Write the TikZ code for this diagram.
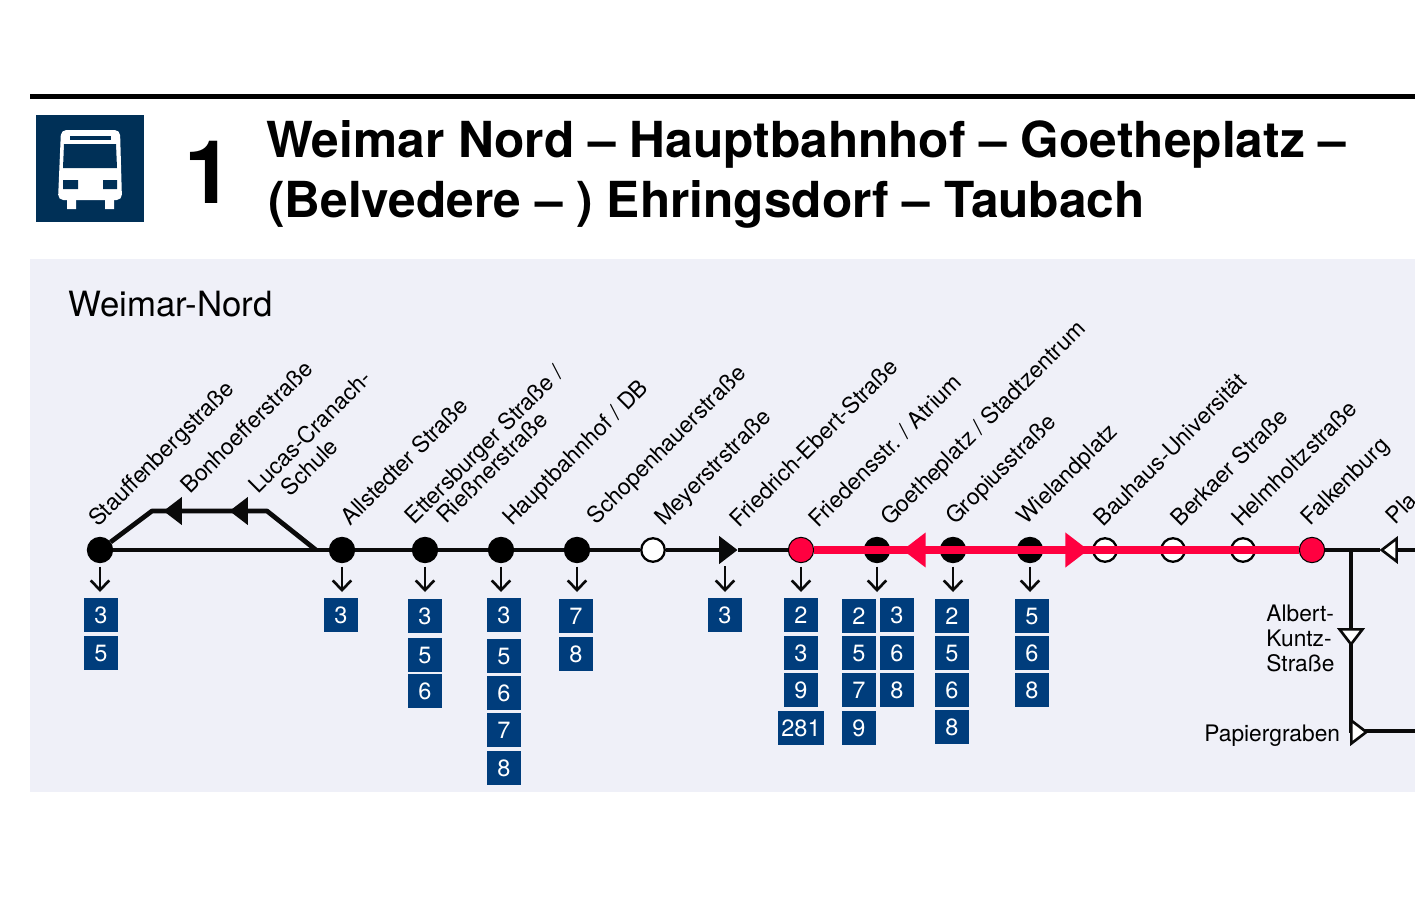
\documentclass[tikz,border=0pt]{standalone}
\usepackage{fontspec}
\setmainfont{TeX Gyre Heros}
\usetikzlibrary{%
	arrows.meta,%
	shapes.geometric
}
\definecolor{panelbg}{HTML}{EFF0F8}
\definecolor{busblue}{HTML}{003057}
\definecolor{lineblue}{HTML}{003D7C}
\definecolor{netred}{HTML}{FF0040}
\definecolor{linkblack}{HTML}{0A0A0A}
\tikzset{
	stop/.style={circle, draw=black, line width=0.6pt, fill=black, inner sep=0pt, minimum size=14.4pt},
	redstop/.style={stop, fill=netred},
	openstop/.style={stop, fill=white, line width=1.3pt, minimum size=13.4pt},
	route/.style={fill=lineblue, text=white, font=\fontsize{13.4}{15}\selectfont, inner sep=0pt, minimum width=19.3pt, minimum height=19.3pt},
	stopname/.style={anchor=base west, rotate=45, inner sep=0pt, font=\fontsize{13}{15}\selectfont},
	sidename/.style={anchor=base west, inner sep=0pt, font=\fontsize{12.95}{15}\selectfont},
	link/.style={draw=linkblack, line width=2.7pt},
	redlink/.style={draw=netred, line width=4.4pt},
	drop/.style={draw=linkblack, line width=1.5pt, -{Straight Barb[length=5.5pt,width=10.5pt,line width=1.5pt]}},
	wedge/.style={isosceles triangle, isosceles triangle apex angle=75, inner sep=0pt, minimum height=10.5pt, minimum width=14.5pt, fill=linkblack},
	openwedge/.style={wedge, fill=white, draw=linkblack, line width=1.5pt, minimum height=8.5pt, minimum width=12pt}
}
\begin{document}
\begin{tikzpicture}[x=0.02cm, y=-0.02cm]
	\useasboundingbox (0,0) rectangle (1415,909);

	% Header
	\fill (30,94) rectangle (1415,99);
	\fill[busblue] (36,115) rectangle (144,222);
	\fill[white, rounded corners=3] (61,130) -- (120,130) -- (122,200) -- (58,200) -- cycle;
	\fill[white] (67,198) rectangle (76,209) (105,198) rectangle (114,209);
	\fill[busblue] (70,136) rectangle (111,140);
	\fill[busblue] (64,144) -- (116,144) -- (117,168) -- (63,168) -- cycle;
	\fill[busblue] (63,180) rectangle (78,189) (103,180) rectangle (117,189);
	\node[anchor=base, inner sep=0pt, font=\fontsize{50}{50}\selectfont\bfseries] (number) at (209,203) {1};
	\node[anchor=base west, inner sep=0pt, font=\fontsize{28.25}{34}\selectfont\bfseries] (titleone) at (266,157) {Weimar Nord – Hauptbahnhof – Goetheplatz –};
	\node[anchor=base west, inner sep=0pt, font=\fontsize{28.25}{34}\selectfont\bfseries] (titletwo) at (268,217) {(Belvedere – ) Ehringsdorf – Taubach};

	% Panel
	\fill[panelbg] (30,259) rectangle (1415,792);
	\node[anchor=base west, inner sep=0pt, font=\fontsize{19.8}{22}\selectfont] (terminus) at (68,316) {Weimar-Nord};

	% Stops on the main line
	\foreach \name/\x/\kind in {stauffenberg/100/stop, allstedter/342/stop, ettersburger/425/stop, hauptbahnhof/501/stop, schopenhauer/577/stop, meyer/653/openstop, friedrich/801/redstop, goethe/877/stop, gropius/953/stop, wieland/1030/stop, bauhaus/1105/openstop, berkaer/1173/openstop, helmholtz/1243/openstop, falkenburg/1312/redstop} {
		\node[\kind] (\name) at (\x,550) {};
	}
	\node[wedge, shape border rotate=0] (ebert) at (726,550) {};
	\node[openwedge, shape border rotate=180] (plan) at (1391,550) {};
	\coordinate (rightedge) at (1415,550);
	\coordinate (upper) at (152,511);
	\coordinate (uppertwo) at (267,511);
	\coordinate (merge) at (316,550);
	\coordinate (fork) at (1351,550);
	\coordinate (paperturn) at (1351,731);
	\coordinate (lowerright) at (1415,731);
	\coordinate (ebertdrop) at (725,566);
	\coordinate (eberttip) at (725,592);

	% Lines
	\draw[link] (stauffenberg) -- (allstedter) -- (ettersburger) -- (hauptbahnhof) -- (schopenhauer) -- (meyer) -- (ebert) -- (friedrich);
	\draw[link, line join=round] (stauffenberg) -- (upper) -- (uppertwo) -- (merge);
	\draw[link] (falkenburg) -- (fork) -- (plan);
	\draw[link] (plan) -- (rightedge);
	\draw[link] (fork) -- (paperturn) -- (lowerright);
	\draw[redlink] (friedrich) -- (falkenburg);

	% Wedges on the lines
	\node[wedge, shape border rotate=180] (bonhoeffer) at (175,511) {};
	\node[wedge, shape border rotate=180] (lucas) at (241,511) {};
	\node[wedge, fill=netred, minimum height=9.5pt, minimum width=20pt, shape border rotate=180] (redleft) at (917,550) {};
	\node[wedge, fill=netred, minimum height=9.5pt, minimum width=20pt, shape border rotate=0] (redright) at (1074,550) {};
	\node[openwedge, shape border rotate=270] (albert) at (1351,635) {};
	\node[openwedge, shape border rotate=0] (papier) at (1357,732) {};

	% Names
	\foreach \x/\y/\txt in {
		98/528/Stauffenbergstraße, 190/495/Bonhoefferstraße, 258/495/Lucas-Cranach-, 290/498/Schule,
		350/527/Allstedter Straße, 414/526/{Ettersburger Straße /}, 446/525/Rießnerstraße,
		512/527/{Hauptbahnhof / DB}, 596/526/Schopenhauerstraße, 664/527/Meyerstrstraße,
		739/529/Friedrich-Ebert-Straße, 818/529/{Friedensstr. / Atrium}, 890/527/{Goetheplatz / Stadtzentrum},
		955/526/Gropiusstraße, 1026/526/Wielandplatz, 1103/528/Bauhaus-Universität,
		1180/528/Berkaer Straße, 1241/528/Helmholtzstraße, 1310/527/Falkenburg, 1395/526/Pla} {
		\node[stopname] at (\x,\y) {\txt};
	}
	\node[sidename] (albertname) at (1266,621) {Albert-};
	\node[sidename] (kuntzname) at (1266,646) {Kuntz-};
	\node[sidename] (strassename) at (1266,671) {Straße};
	\node[sidename] (papiername) at (1204,741) {Papiergraben};

	% Arrows down to the routes
	\foreach \x/\top in {100/stauffenberg, 342/allstedter, 425/ettersburger, 501/hauptbahnhof, 577/schopenhauer, 801/friedrich, 877/goethe, 953/gropius, 1030/wieland} {
		\coordinate (tip) at (\x,592);
		\draw[drop] ([yshift=-2pt]\top.south) -- (tip);
	}
	\draw[drop] (ebertdrop) -- (eberttip);

	% Route boxes
	\foreach \x/\y/\num in {
		101/615/3, 101/653/5, 341/615/3, 425/616/3, 425/655/5, 425/691/6,
		504/615/3, 504/656/5, 504/693/6, 504/730/7, 504/768/8, 576/616/7, 576/654/8,
		725/615/3, 801/615/2, 801/653/3, 801/690/9,
		859/616/2, 859/653/5, 859/690/7, 859/728/9, 897/615/3, 897/653/6, 897/690/8,
		952/616/2, 952/653/5, 952/690/6, 952/727/8, 1032/616/5, 1032/653/6, 1032/690/8} {
		\node[route] at (\x,\y) {\num};
	}
	\node[route, minimum width=26pt] (longroute) at (801,728) {281};
\end{tikzpicture}
\end{document}
